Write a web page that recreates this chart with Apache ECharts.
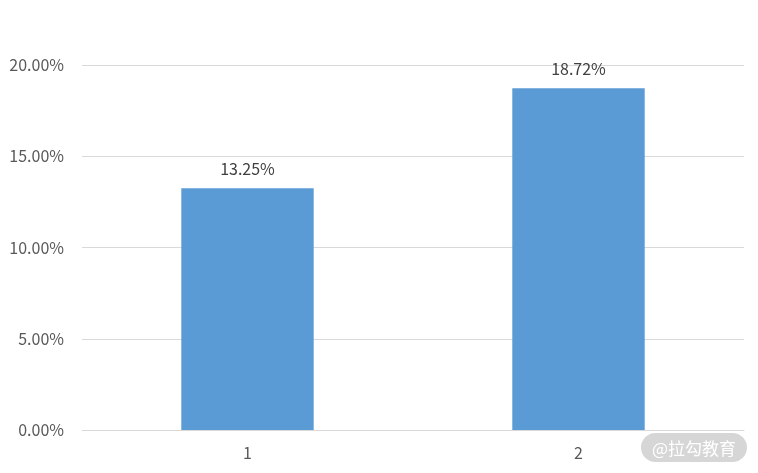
<!DOCTYPE html>
<html><head><meta charset="utf-8">
<script src="https://cdn.jsdelivr.net/npm/echarts@6/dist/echarts.min.js"></script>
<style>html,body{margin:0;padding:0;background:#fff}#c{width:758px;height:473px;position:relative}
#wm{position:absolute;left:641px;top:433px;width:106px;height:29px;border-radius:15px;background:#d6d6d6;color:#fff;font-family:"Noto Sans CJK SC";font-size:17px;line-height:29px;text-align:center}</style>
</head><body><div id="c"></div>
<script>
const categories = ['1', '2'];
const values = [13.25, 18.72];
const yTicks = [0, 5, 10, 15, 20];
const chart = echarts.init(document.getElementById('c'));
const font = '"Noto Sans CJK SC", "Noto Sans", sans-serif';
chart.setOption({
  animation: false,
  grid: { left: 82, right: 14, top: 65, bottom: 43 },
  xAxis: {
    type: 'category', data: categories,
    axisLine: { lineStyle: { color: '#d9d9d9' } },
    axisTick: { show: false },
    axisLabel: { color: '#595959', fontSize: 16, fontFamily: font, margin: 15 }
  },
  yAxis: {
    type: 'value', min: yTicks[0], max: yTicks[yTicks.length - 1], interval: 5,
    axisLine: { show: false }, axisTick: { show: false },
    splitLine: { lineStyle: { color: '#d9d9d9' } },
    axisLabel: { color: '#595959', fontSize: 16, fontFamily: font, margin: 18,
      formatter: v => v.toFixed(2) + '%' }
  },
  series: [{
    type: 'bar', data: values, barWidth: '40%',
    itemStyle: { color: '#5B9BD5' },
    label: { show: true, position: 'top', distance: 11, color: '#404040', fontSize: 16,
      fontFamily: font, formatter: p => p.value.toFixed(2) + '%' }
  }]
});
</script>
<div id="wm">@拉勾教育</div>
</body></html>
